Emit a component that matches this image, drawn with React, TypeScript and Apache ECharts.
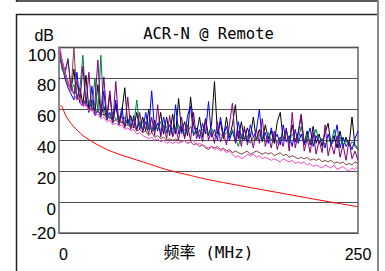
import React, { useEffect, useRef } from "react";
import * as echarts from "echarts";

const freqs = [
  1, 2.5, 5, 7.5, 10, 12.5, 15, 17.5, 20, 22.5,
  25, 27.5, 30, 32.5, 35, 37.5, 40, 42.5, 45, 47.5,
  50, 52.5, 55, 57.5, 60, 62.5, 65, 67.5, 70, 72.5,
  75, 77.5, 80, 82.5, 85, 87.5, 90, 92.5, 95, 97.5,
  100, 102.5, 105, 107.5, 110, 112.5, 115, 117.5, 120, 122.5,
  125, 127.5, 130, 132.5, 135, 137.5, 140, 142.5, 145, 147.5,
  150, 152.5, 155, 157.5, 160, 162.5, 165, 167.5, 170, 172.5,
  175, 177.5, 180, 182.5, 185, 187.5, 190, 192.5, 195, 197.5,
  200, 202.5, 205, 207.5, 210, 212.5, 215, 217.5, 220, 222.5,
  225, 227.5, 230, 232.5, 235, 237.5, 240, 242.5, 245, 247.5,
  250,
];

const blackVals = [
  96, 92, 84, 78, 72, 86, 66, 74, 63, 82,
  60, 66, 58, 76, 56, 62, 54, 70, 52, 63,
  51, 58, 74, 50, 56, 48, 58, 47, 55, 46,
  60, 45, 53, 46, 58, 44, 55, 43, 57, 44,
  67, 45, 52, 43, 68, 50, 44, 55, 42, 54,
  43, 50, 78, 44, 52, 41, 55, 42, 50, 63,
  41, 52, 40, 48, 42, 55, 40, 47, 39, 50,
  41, 46, 38, 52, 58, 40, 47, 38, 50, 39,
  45, 56, 38, 46, 37, 49, 38, 44, 36, 45,
  51, 37, 43, 35, 46, 36, 42, 37, 55, 36,
  34,
];

const blueVals = [
  92, 88, 80, 74, 70, 66, 84, 64, 62, 67,
  58, 75, 56, 60, 55, 72, 53, 58, 51, 66,
  50, 61, 49, 54, 48, 56, 47, 52, 46, 58,
  47, 72, 46, 51, 44, 55, 45, 50, 43, 63,
  44, 49, 42, 56, 62, 43, 48, 41, 51, 44,
  65, 42, 47, 40, 55, 43, 49, 40, 46, 39,
  52, 41, 47, 39, 50, 42, 46, 60, 40, 45,
  38, 48, 40, 44, 37, 50, 39, 43, 36, 47,
  38, 44, 37, 42, 48, 36, 43, 38, 41, 35,
  44, 37, 40, 50, 35, 42, 36, 39, 34, 41,
  46,
];

const greenVals = [
  94, 86, 82, 93, 72, 76, 68, 74, 95, 64,
  66, 60, 80, 58, 95, 56, 60, 54, 58, 53,
  56, 51, 55, 50, 54, 49, 66, 48, 52, 47,
  51, 46, 50, 47, 52, 46, 49, 45, 48, 46,
  50, 44, 47, 45, 49, 44, 46, 43, 47, 45,
  44, 48, 43, 46, 44, 42, 45, 43, 47, 41,
  36, 44, 40, 43, 38, 42, 40, 44, 41, 39,
  45, 40, 43, 38, 42, 40, 46, 39, 44, 41,
  40, 49, 39, 43, 38, 42, 47, 39, 41, 37,
  40, 38, 47, 39, 42, 37, 40, 36, 39, 37,
  35,
];

const purpleVals = [
  98, 90, 85, 92, 75, 70, 78, 65, 88, 62,
  84, 59, 64, 92, 57, 81, 55, 72, 52, 78,
  50, 56, 48, 68, 47, 54, 46, 58, 45, 52,
  44, 55, 43, 63, 42, 50, 41, 56, 42, 48,
  40, 55, 41, 50, 40, 58, 41, 47, 39, 53,
  40, 46, 38, 52, 39, 45, 37, 50, 64, 38,
  46, 36, 49, 37, 44, 35, 47, 38, 54, 36,
  43, 35, 46, 34, 42, 36, 48, 33, 58, 35,
  44, 57, 33, 41, 32, 45, 31, 40, 32, 50,
  30, 38, 31, 43, 29, 37, 27, 40, 28, 33,
  27,
];

const brownVals = [
  96, 90, 82, 76, 72, 100, 66, 68, 63, 64,
  60, 61, 58, 59, 56, 57, 54, 55, 52, 53,
  51, 52, 49, 50, 48, 49, 46, 47, 45, 46,
  43, 45, 42, 43, 41, 42, 40, 41, 40, 41,
  40, 39, 40, 38, 39, 37, 38, 36, 37, 35,
  34, 36, 35, 36, 34, 35, 33, 34, 32, 33,
  32, 31, 32, 33, 31, 32, 33, 32, 31, 32,
  31, 32, 30, 31, 32, 30, 31, 29, 30, 29,
  28, 29, 28, 29, 27, 28, 27, 28, 26, 27,
  26, 27, 25, 26, 25, 26, 24, 25, 24, 26,
  25,
];

const pinkVals = [
  100, 92, 84, 78, 72, 70, 66, 67, 62, 63,
  59, 60, 56, 57, 54, 55, 52, 53, 50, 51,
  49, 50, 47, 48, 46, 47, 44, 45, 43, 42,
  41, 42, 40, 41, 39, 40, 38, 39, 38, 39,
  38, 39, 40, 38, 39, 40, 37, 38, 37, 36,
  35, 36, 34, 35, 33, 34, 32, 33, 31, 29,
  30, 28, 29, 31, 30, 31, 29, 30, 28, 29,
  28, 27, 28, 27, 26, 28, 27, 26, 27, 25,
  26, 25, 26, 24, 25, 23, 24, 23, 22, 24,
  23, 22, 24, 21, 22, 23, 21, 20, 22, 21,
  23,
];

const limitFreqs = [1, 2, 3, 5, 8, 12, 16, 20, 25, 30, 35, 40, 50, 60, 70, 80, 90, 100, 110, 125, 150, 175, 200, 225, 250];
const limitVals = [62.5, 62.3, 61, 57, 53, 49, 46, 43, 40.5, 38, 36, 34, 31, 28.5, 26, 23.5, 21, 19, 17.2, 14.5, 10.8, 7.3, 3.8, 0.3, -3];

const yTicks = [-20, 0, 20, 40, 60, 80, 100];
const xTicks = [0, 250];

const titleText = "ACR-N @ Remote";
const yName = "dB";
const xName = "频率 (MHz)";

const measured = [
  { name: "pair1", color: "#000000", vals: blackVals },
  { name: "pair2", color: "#0000ff", vals: blueVals },
  { name: "pair3", color: "#008040", vals: greenVals },
  { name: "pair4", color: "#800080", vals: purpleVals },
  { name: "pair5", color: "#804040", vals: brownVals },
  { name: "pair6", color: "#ff44cc", vals: pinkVals },
];

export default function App() {
  const ref = useRef<HTMLDivElement>(null);
  useEffect(() => {
    if (!ref.current) return;
    const chart = echarts.init(ref.current, undefined, { renderer: "svg" });
    const series: any[] = measured.map((m) => ({
      name: m.name,
      type: "line",
      data: freqs.map((f, i) => [f, m.vals[i]]),
      showSymbol: false,
      symbol: "none",
      lineStyle: { color: m.color, width: 1 },
      itemStyle: { color: m.color },
      clip: true,
    }));
    series.push({
      name: "limit",
      type: "line",
      data: limitFreqs.map((f, i) => [f, limitVals[i]]),
      showSymbol: false,
      symbol: "none",
      smooth: 0.3,
      lineStyle: { color: "#ff0000", width: 1 },
      itemStyle: { color: "#ff0000" },
    });
    chart.setOption({
      animation: false,
      backgroundColor: "#ffffff",
      grid: {
        left: 59,
        right: 27,
        top: 47.5,
        bottom: 38,
        outerBoundsMode: "none",
        containLabel: false,
        show: true,
        borderColor: "#8a8a8a",
        borderWidth: 2,
        backgroundColor: "transparent",
      },
      xAxis: {
        type: "value",
        min: xTicks[0],
        max: xTicks[1],
        interval: xTicks[1] - xTicks[0],
        axisLine: { show: false },
        axisTick: { show: false },
        splitLine: { show: false },
        axisLabel: {
          margin: 13,
          fontSize: 16,
          fontFamily: "Liberation Sans, Arial, sans-serif",
          color: "#000",
          alignMinLabel: "left",
          alignMaxLabel: "center",
        },
        name: xName,
        nameLocation: "middle",
        nameGap: 11,
        nameMoveOverlap: false,
        nameTextStyle: {
          fontSize: 16,
          fontFamily: "DejaVu Sans Mono, Noto Sans CJK SC, monospace",
          color: "#000",
          verticalAlign: "top",
        },
      },
      yAxis: {
        type: "value",
        min: yTicks[0],
        max: yTicks[yTicks.length - 1],
        interval: 20,
        axisLine: { show: false },
        axisTick: { show: false },
        splitLine: { show: true, lineStyle: { color: "#505050", width: 1 } },
        axisLabel: {
          margin: 3,
          color: "#000",
          fontSize: 17,
          fontFamily: "Liberation Sans, Arial, sans-serif",
          formatter: (v: number) => (v === yTicks[0] ? `{b|${v}}` : `{a|${v}}`),
          rich: {
            a: {
              fontSize: 17,
              fontFamily: "Liberation Sans, Arial, sans-serif",
              color: "#000",
              padding: [15, 0, 0, 0],
            },
            b: {
              fontSize: 17,
              fontFamily: "Liberation Sans, Arial, sans-serif",
              color: "#000",
            },
          },
        },
        name: yName,
        nameLocation: "end",
        nameGap: 4,
        nameMoveOverlap: false,
        nameTextStyle: {
          fontSize: 16,
          fontFamily: "Liberation Sans, Arial, sans-serif",
          color: "#000",
          align: "right",
          padding: [0, 5, 0, 0],
        },
      },
      graphic: [
        { type: "line", shape: { x1: 16, y1: 1, x2: 378, y2: 1 }, style: { stroke: "#222", lineWidth: 1.5 } },
        { type: "line", shape: { x1: 16.5, y1: 0, x2: 16.5, y2: 1.5 }, style: { stroke: "#222", lineWidth: 1.5 } },
        { type: "line", shape: { x1: 16, y1: 14.5, x2: 378, y2: 14.5 }, style: { stroke: "#222", lineWidth: 1.5 } },
        { type: "line", shape: { x1: 16.5, y1: 14, x2: 16.5, y2: 271 }, style: { stroke: "#222", lineWidth: 1.5 } },
        { type: "line", shape: { x1: 378, y1: 0, x2: 378, y2: 271 }, style: { stroke: "#888", lineWidth: 2 } },
        {
          type: "text",
          x: 208.5,
          y: 34,
          style: {
            text: titleText,
            align: "center",
            verticalAlign: "middle",
            font: '15.5px "DejaVu Sans Mono", monospace',
            fill: "#000",
          },
        },
      ],
      series,
    });
    return () => chart.dispose();
  }, []);
  return (
    <div
      ref={ref}
      style={{ position: "fixed", left: 0, top: 0, width: 385, height: 271, background: "#fff" }}
    />
  );
}
